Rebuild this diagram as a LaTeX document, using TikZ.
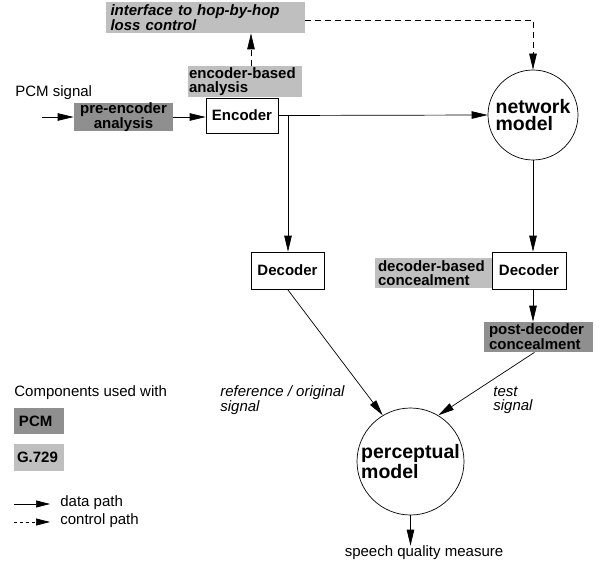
\documentclass[tikz,border=0pt]{standalone}
\usepackage{fontspec}
\setmainfont{Liberation Sans}
\usetikzlibrary{arrows.meta}
\definecolor{pcmgray}{gray}{0.56}
\definecolor{gsgray}{gray}{0.75}

\begin{document}
\begin{tikzpicture}[x=1pt,y=-1pt,line width=0.7pt,
    >={Triangle[length=16pt,width=7.5pt]},
    every node/.style={inner sep=0pt,font=\fontsize{15}{13.5}\selectfont},
    pcmbox/.style={fill=pcmgray,font=\fontsize{15}{13.5}\selectfont\bfseries,align=left,inner xsep=5pt},
    gsbox/.style={fill=gsgray,font=\fontsize{15}{13.5}\selectfont\bfseries,align=left,inner xsep=3pt},
    codec/.style={draw,fill=white,font=\fontsize{15}{13.5}\selectfont\bfseries},
    model/.style={draw,circle,align=left,font=\fontsize{19.5}{16.5}\selectfont\bfseries},
    ctrl/.style={dash pattern=on 6pt off 4pt}]
    \useasboundingbox (0,0) rectangle (600,567);

    % Draw the sender side
    \node[gsbox,text width=190pt,minimum height=31pt,inner xsep=4.5pt,font=\fontsize{15}{13.5}\selectfont\bfseries\itshape]
        (hop) at (205.5,17.5) {interface to hop-by-hop\\loss control};
    \node[gsbox,text width=112pt,minimum height=31pt,inner xsep=1pt] (encan) at (245,81.5) {encoder-based\\analysis};
    \node[codec,minimum width=72pt,minimum height=35pt] (enc) at (242,115.5) {Encoder};
    \node[pcmbox,align=center,minimum width=99pt,minimum height=28pt] (pre) at (123.5,117) {pre-encoder\\analysis};
    \node[anchor=west] (pcm) at (15,93) {PCM signal};
    \coordinate (in) at (42,117);

    % Draw the network and the receivers
    \node[model,minimum size=90pt] (net) at (533,115) {network\\model};
    \node[codec,minimum width=73pt,minimum height=37pt] (decl) at (287.5,270.5) {Decoder};
    \node[codec,minimum width=74pt,minimum height=37pt] (decr) at (529,270.5) {Decoder};
    \node[gsbox,text width=111pt,minimum height=30pt] (decan) at (433.5,273) {decoder-based\\concealment};
    \node[pcmbox,text width=99pt,minimum height=30pt] (post) at (538.5,337) {post-decoder\\concealment};
    \node[model,minimum size=107pt] (perc) at (410.5,461.5) {perceptual\\model};
    \node (sqm) at (424,553) {speech quality measure};
    \node[anchor=west,align=left,font=\fontsize{15}{13.5}\selectfont\itshape] (refsig) at (220,400) {reference / original\\signal};
    \node[anchor=west,align=left,font=\fontsize{15}{13.5}\selectfont\itshape] (testsig) at (493,400) {test\\signal};

    % Draw the data paths
    \draw[->] (in) -- (pre.west |- in);
    \draw[->] (pre.east) -- (pre.east -| enc.west);
    \draw[->] (enc.east) -- (net.west);
    \coordinate (split) at (288,115.5);
    \draw[->] (split) -- (split |- decl.north);
    \draw[->] (net.south) -- (net.south |- decr.north);
    \draw[->] (net.south |- decr.south) -- (net.south |- post.north);
    \draw[->] (decl.south) -- (perc.121);
    \draw[->] ([xshift=-4pt]post.south) -- (perc.59);
    \draw[->] (perc.south) -- (perc.south |- sqm.north);

    % Draw the control paths
    \draw[->,ctrl] ([xshift=6pt]encan.north) -- ([xshift=6pt]encan.north |- hop.south);
    \draw[->,ctrl] ([yshift=-2.5pt]hop.east) -| (net.north);

    % Draw the legend
    \node[anchor=west] (used) at (14,393) {Components used with};
    \node[pcmbox,text width=40pt,minimum height=26pt] (pcmkey) at (39,421) {PCM};
    \node[gsbox,text width=44pt,minimum height=27pt] (gkey) at (39,457.5) {G.729};
    \coordinate (dataa) at (14,504);
    \coordinate (datab) at (50,504);
    \coordinate (ctrla) at (14,522);
    \coordinate (ctrlb) at (50,522);
    \draw[-{Triangle[length=14pt,width=7pt]}] (dataa) -- (datab);
    \draw[-{Triangle[length=14pt,width=7pt]},dash pattern=on 3pt off 3pt] (ctrla) -- (ctrlb);
    \node[anchor=west] (datatxt) at (60,503) {data path};
    \node[anchor=west] (ctrltxt) at (60,521) {control path};

\end{tikzpicture}
\end{document}
